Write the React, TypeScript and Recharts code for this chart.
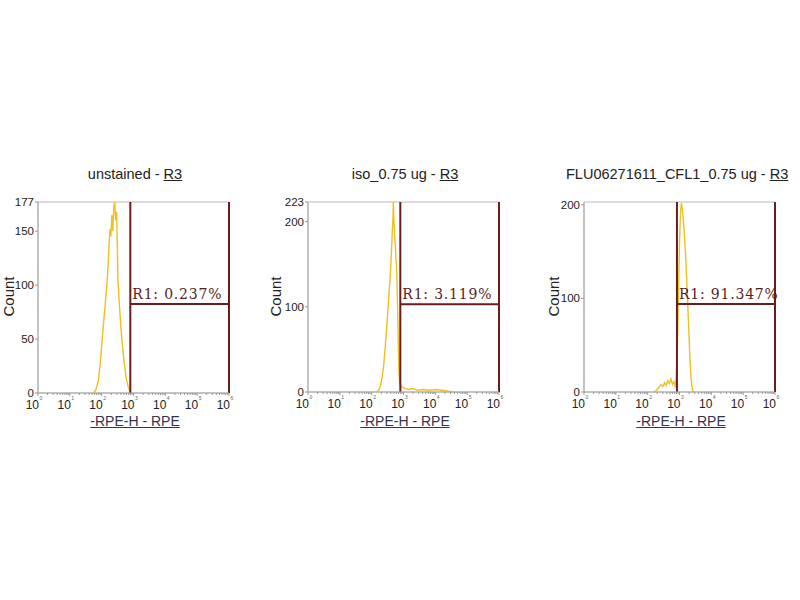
import { LineChart, Line, XAxis, YAxis, ReferenceLine, ReferenceArea } from "recharts";

// log decades on the x axis (10^0 .. 10^6)
const DECADES = [0, 1, 2, 3, 4, 5, 6];

// unstained
const UNSTAINED_X = [1.75, 1.82, 1.9, 1.97, 2.03, 2.09, 2.15, 2.19, 2.23, 2.26, 2.29, 2.32, 2.35, 2.38, 2.41, 2.44, 2.47, 2.49, 2.51, 2.55, 2.6, 2.64, 2.7, 2.77, 2.84, 2.92];
const UNSTAINED_COUNT = [0, 3, 12, 32, 55, 75, 95, 112, 135, 152, 145, 165, 150, 172, 177, 160, 168, 140, 105, 85, 62, 48, 30, 14, 5, 0];

// iso_0.75 ug
const ISO_X = [2.15, 2.22, 2.28, 2.33, 2.38, 2.43, 2.47, 2.51, 2.55, 2.58, 2.61, 2.63, 2.65, 2.67, 2.68, 2.7, 2.73, 2.76, 2.79, 2.82, 2.85, 2.88, 2.95, 3.05, 3.15, 3.3, 3.45, 3.6, 3.8, 4.0, 4.2, 4.4, 4.6];
const ISO_COUNT = [0, 2, 8, 18, 32, 55, 75, 95, 118, 134, 155, 172, 190, 205, 223, 200, 180, 160, 140, 90, 30, 10, 6, 4, 3, 4, 2, 3, 2, 3, 2, 1, 0];

// FLU06271611_CFL1_0.75 ug
const CFL1_X = [2.2, 2.28, 2.35, 2.42, 2.48, 2.53, 2.58, 2.63, 2.68, 2.73, 2.78, 2.83, 2.88, 2.93, 2.97, 3.0, 3.03, 3.06, 3.09, 3.12, 3.16, 3.2, 3.25, 3.29, 3.33, 3.37, 3.41, 3.46];
const CFL1_COUNT = [0, 2, 5, 8, 6, 10, 7, 12, 9, 14, 8, 11, 5, 40, 110, 160, 190, 202, 195, 185, 165, 140, 100, 68, 35, 12, 2, 0];

const TITLES = ["unstained", "iso_0.75 ug", "FLU06271611_CFL1_0.75 ug"];
const Y_MAX = [177, 223, 203];
const Y_TICKS = [[0, 50, 100, 150, 177], [0, 100, 200, 223], [0, 100, 200]];
const GATE_START = [2.9, 2.9, 2.92];
const GATE_Y = [82.5, 103, 94];
const GATE_LABELS = ["R1: 0.237%", "R1: 3.119%", "R1: 91.347%"];

const FONT = "'Liberation Sans', Arial, sans-serif";
const GATE_COLOR = "#6a1d1d";

const minorTicks: number[] = [];
DECADES.slice(0, -1).forEach((d) => {
  for (let k = 2; k <= 9; k++) minorTicks.push(d + Math.log10(k));
});
const xTicks = [...DECADES, ...minorTicks];

const XTick = (props: any) => {
  const { x, y, payload } = props;
  const v = payload.value;
  const major = Number.isInteger(v);
  if (!major) {
    return <line x1={x} x2={x} y1={y} y2={y + 2} stroke="#999" />;
  }
  return (
    <g>
      <line x1={x} x2={x} y1={y} y2={y + 3} stroke="#999" />
      <text x={x + 1} y={y + 16} textAnchor="end" fontSize={12} fill="#222" fontFamily={FONT}>
        10
      </text>
      <text x={x + 1.5} y={y + 7} fontSize={5} fill="#666" fontFamily={FONT}>
        {v}
      </text>
    </g>
  );
};

interface PanelProps {
  xs: number[];
  counts: number[];
  idx: number;
  plotLeft: number;
  plotRight: number;
  plotTop: number;
  plotBottom: number;
}

const Panel = ({ xs, counts, idx, plotLeft, plotRight, plotTop, plotBottom }: PanelProps) => {
  const data = xs.map((x, i) => ({ x, count: counts[i] }));
  const yAxisWidth = 30;
  const xAxisHeight = 30;
  const g0 = GATE_START[idx];
  const gy = GATE_Y[idx];
  return (
    <div style={{ position: "absolute", left: 0, top: 0 }}>
      <LineChart
        width={800}
        height={600}
        data={data}
        margin={{
          top: plotTop,
          left: plotLeft - yAxisWidth,
          right: 800 - plotRight,
          bottom: 600 - plotBottom - xAxisHeight,
        }}
      >
        <XAxis
          dataKey="x"
          type="number"
          domain={[0, 6]}
          ticks={xTicks}
          interval={0}
          tick={<XTick />}
          tickLine={false}
          tickSize={0}
          tickMargin={0}
          height={xAxisHeight}
          axisLine={{ stroke: "#aaa" }}
        />
        <YAxis
          type="number"
          domain={[0, Y_MAX[idx]]}
          ticks={Y_TICKS[idx]}
          interval={0}
          width={yAxisWidth}
          tickSize={3}
          tickMargin={1}
          tickLine={{ stroke: "#999" }}
          axisLine={{ stroke: "#aaa" }}
          tick={{ fontSize: 11.5, fill: "#222", fontFamily: FONT }}
        />
        <ReferenceArea x1={0} x2={6} y1={0} y2={Y_MAX[idx]} stroke="#bbb" fill="none" />
        <Line
          dataKey="count"
          type="linear"
          stroke="#f0c020"
          strokeWidth={1.4}
          dot={false}
          isAnimationActive={false}
        />
        <ReferenceLine x={g0} stroke={GATE_COLOR} strokeWidth={2} />
        <ReferenceLine x={6} stroke={GATE_COLOR} strokeWidth={2} />
        <ReferenceLine
          segment={[{ x: g0, y: gy }, { x: 6, y: gy }]}
          stroke={GATE_COLOR}
          strokeWidth={2}
          label={{
            content: (p: any) => (
              <text
                x={p.viewBox.x + 2}
                y={p.viewBox.y - 5}
                fontSize={14}
                letterSpacing={0.8}
                fill="#5a1c1c"
                fontFamily="'DejaVu Serif', serif"
              >
                {GATE_LABELS[idx]}
              </text>
            ),
          }}
        />
      </LineChart>
    </div>
  );
};

const TEXT_CENTER_X = [135, 405, 681];
const COUNT_X = [8, 275, 553];

const App = () => {
  const panels = [
    { xs: UNSTAINED_X, counts: UNSTAINED_COUNT, plotLeft: 38, plotRight: 229, plotTop: 202, plotBottom: 393 },
    { xs: ISO_X, counts: ISO_COUNT, plotLeft: 308, plotRight: 499, plotTop: 202, plotBottom: 392 },
    { xs: CFL1_X, counts: CFL1_COUNT, plotLeft: 584, plotRight: 775, plotTop: 202, plotBottom: 392 },
  ];
  return (
    <div
      style={{
        position: "absolute",
        left: 0,
        top: 0,
        width: 800,
        height: 600,
        background: "#fff",
        overflow: "hidden",
        fontFamily: FONT,
      }}
    >
      {panels.map((p, i) => (
        <Panel key={i} idx={i} {...p} />
      ))}
      {TITLES.map((t, i) => (
        <div
          key={"t" + i}
          style={
            i === 2
              ? { position: "absolute", left: 566, top: 166, fontSize: 14.5, color: "#222", whiteSpace: "nowrap" }
              : {
                  position: "absolute",
                  left: TEXT_CENTER_X[i] - 150,
                  width: 300,
                  top: 166,
                  fontSize: 14.5,
                  color: "#222",
                  textAlign: "center",
                  whiteSpace: "nowrap",
                }
          }
        >
          {t} - <u>R3</u>
        </div>
      ))}
      {TEXT_CENTER_X.map((cx, i) => (
        <div
          key={"x" + i}
          style={{
            position: "absolute",
            left: cx - 100,
            width: 200,
            top: 413,
            fontSize: 14,
            color: "#34344f",
            textAlign: "center",
            textDecoration: "underline",
          }}
        >
          -RPE-H - RPE
        </div>
      ))}
      {COUNT_X.map((cx, i) => (
        <div
          key={"c" + i}
          style={{
            position: "absolute",
            left: cx - 30,
            width: 60,
            top: 288,
            fontSize: 15,
            color: "#222",
            textAlign: "center",
            transform: "rotate(-90deg)",
          }}
        >
          Count
        </div>
      ))}
    </div>
  );
};

export default App;
